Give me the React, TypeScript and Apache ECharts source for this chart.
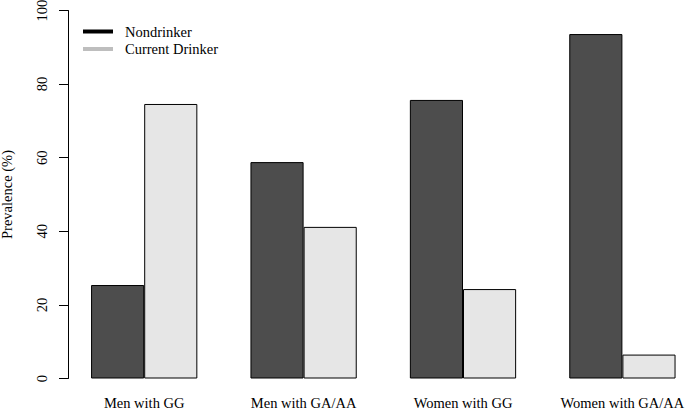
import React, { useEffect, useRef } from "react";
import * as echarts from "echarts";

const categories = ["Men with GG", "Men with GA/AA", "Women with GG", "Women with GA/AA"];
const nondrinker = [25.4, 58.8, 75.7, 93.6];
const currentDrinker = [74.6, 41.2, 24.3, 6.5];
const yTicks = { min: 0, max: 100, interval: 20 };

const FONT = "'Liberation Serif', 'DejaVu Serif', serif";
const FS = 14.5;

export default function App() {
  const ref = useRef<HTMLDivElement>(null);
  useEffect(() => {
    if (!ref.current) return;
    const chart = echarts.init(ref.current, undefined, { renderer: "svg" });
    chart.setOption({
      animation: false,
      backgroundColor: "#ffffff",
      textStyle: { fontFamily: FONT, color: "#000" },
      grid: {
        left: 64.5,
        top: 10.5,
        right: -17.1,
        bottom: 32.5,
        containLabel: false,
        outerBoundsMode: "none",
      },
      legend: {
        orient: "vertical",
        left: 78,
        top: 19,
        itemWidth: 30,
        itemHeight: 4,
        itemGap: 2.5,
        icon: "rect",
        textStyle: { fontFamily: FONT, fontSize: FS, color: "#000", padding: [0, 0, 0, 7] },
        data: [
          { name: "Nondrinker", itemStyle: { color: "#000", borderWidth: 0 } },
          { name: "Current Drinker", itemStyle: { color: "#bebebe", borderWidth: 0 } },
        ],
      },
      xAxis: {
        type: "category",
        data: categories,
        axisLine: { show: false },
        axisTick: { show: false },
        axisLabel: { interval: 0, color: "#000", fontFamily: FONT, fontSize: FS, margin: 17 },
      },
      yAxis: {
        type: "value",
        min: yTicks.min,
        max: yTicks.max,
        interval: yTicks.interval,
        offset: -3.5,
        name: "Prevalence (%)",
        nameLocation: "middle",
        nameGap: 54,
        nameTextStyle: { fontFamily: FONT, fontSize: FS, color: "#000" },
        splitLine: { show: false },
        axisLine: { show: true, lineStyle: { color: "#000", width: 1 } },
        axisTick: { show: true, length: 9, lineStyle: { color: "#000" } },
        axisLabel: { rotate: 90, color: "#000", fontFamily: FONT, fontSize: FS, margin: 19 },
      },
      series: [
        {
          name: "Nondrinker",
          type: "bar",
          data: nondrinker,
          barGap: "0%",
          barCategoryGap: "33.33%",
          itemStyle: { color: "#4d4d4d", borderColor: "#000", borderWidth: 1 },
        },
        {
          name: "Current Drinker",
          type: "bar",
          data: currentDrinker,
          barGap: "0%",
          barCategoryGap: "33.33%",
          itemStyle: { color: "#e6e6e6", borderColor: "#000", borderWidth: 1 },
        },
      ],
    });
    return () => chart.dispose();
  }, []);
  return (
    <div
      ref={ref}
      style={{ position: "fixed", left: 0, top: 0, width: 685, height: 411, background: "#fff" }}
    />
  );
}
